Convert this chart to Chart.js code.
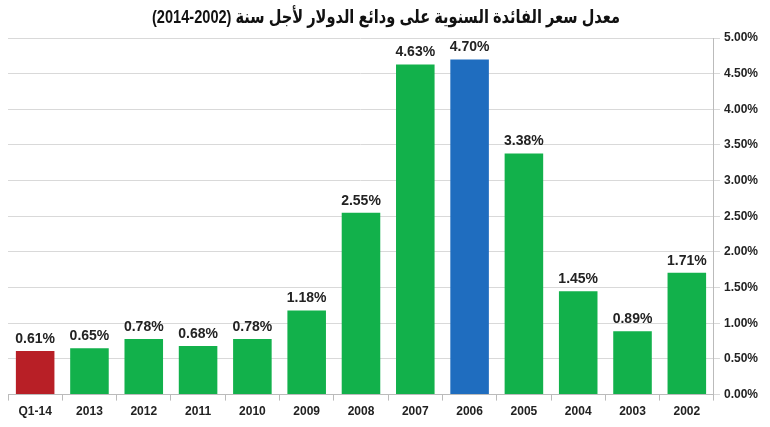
<!DOCTYPE html>
<html>
<head>
<meta charset="utf-8">
<script src="https://cdn.jsdelivr.net/npm/chart.js@4"></script>
<style>
  html, body { margin: 0; padding: 0; background: #fff; }
  #wrap { width: 770px; height: 427px; }
</style>
</head>
<body>
<div id="wrap"><canvas id="chart" width="770" height="427"></canvas></div>
<script>
const titleText = 'معدل سعر الفائدة السنوية على ودائع الدولار لأجل سنة (2002-2014)';
const categories = ['Q1-14', '2013', '2012', '2011', '2010', '2009', '2008', '2007', '2006', '2005', '2004', '2003', '2002'];
const rates = [0.61, 0.65, 0.78, 0.68, 0.78, 1.18, 2.55, 4.63, 4.70, 3.38, 1.45, 0.89, 1.71];
const barColors = ['#b81f26', '#12b14b', '#12b14b', '#12b14b', '#12b14b', '#12b14b', '#12b14b', '#12b14b', '#1f6dbf', '#12b14b', '#12b14b', '#12b14b', '#12b14b'];

const fontFamily = '"Liberation Sans", Arial, "DejaVu Sans", sans-serif';

// title squeezed to the width of the original
const titleDraw = {
    id: 'titleDraw',
    afterDraw(chart) {
        const ctx = chart.ctx;
        ctx.save();
        ctx.font = 'bold 19px ' + fontFamily;
        ctx.fillStyle = '#111';
        ctx.textAlign = 'center';
        ctx.textBaseline = 'middle';
        ctx.fillText(titleText, 386, 18, 468);
        ctx.restore();
    }
};

// labels above each bar
const barLabels = {
    id: 'barLabels',
    afterDatasetsDraw(chart) {
        const ctx = chart.ctx;
        const meta = chart.getDatasetMeta(0);
        ctx.save();
        ctx.font = 'bold 14px ' + fontFamily;
        ctx.fillStyle = '#222';
        ctx.textAlign = 'center';
        ctx.textBaseline = 'bottom';
        meta.data.forEach((bar, i) => {
            ctx.fillText(rates[i].toFixed(2) + '%', bar.x, bar.y - 5, 44);
        });
        ctx.restore();
    }
};

new Chart(document.getElementById('chart'), {
    type: 'bar',
    data: {
        labels: categories,
        datasets: [{
            data: rates,
            backgroundColor: barColors,
            borderWidth: 0,
            barPercentage: 0.71,
            categoryPercentage: 1.0
        }]
    },
    options: {
        responsive: false,
        animation: false,
        layout: { padding: { left: 8, right: 8, top: 38, bottom: 4 } },
        plugins: {
            legend: { display: false },
            tooltip: { enabled: false },
            title: { display: false }
        },
        scales: {
            x: {
                grid: { offset: true, drawOnChartArea: false, drawTicks: true, tickLength: 6, color: '#bbb' },
                border: { color: '#bbb' },
                ticks: { color: '#222', font: { family: fontFamily, size: 12, weight: 'bold' }, padding: 4 }
            },
            y: {
                position: 'right',
                min: 0,
                max: 5,
                grid: { color: '#d9d9d9', tickLength: 6 },
                border: { color: '#bbb' },
                ticks: {
                    stepSize: 0.5,
                    color: '#222',
                    font: { family: fontFamily, size: 12, weight: 'bold' },
                    padding: 4,
                    callback: v => v.toFixed(2) + '%'
                }
            }
        }
    },
    plugins: [barLabels, titleDraw]
});
</script>
</body>
</html>
